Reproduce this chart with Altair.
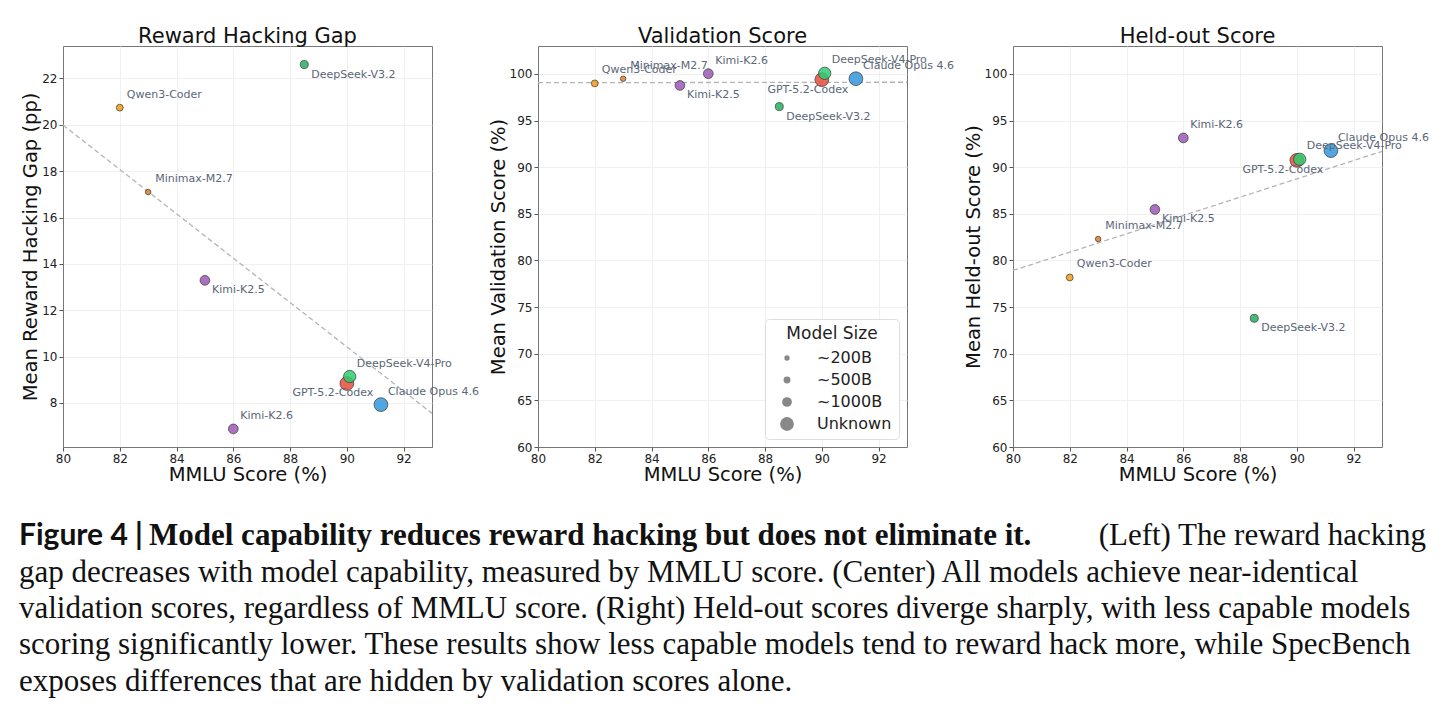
import altair as alt
import pandas as pd

# ---------------- data ----------------
models = ["Qwen3-Coder", "Minimax-M2.7", "Kimi-K2.5", "Kimi-K2.6",
          "DeepSeek-V3.2", "GPT-5.2-Codex", "DeepSeek-V4-Pro", "Claude Opus 4.6"]
mmlu = [82.0, 83.0, 85.0, 86.0, 88.5, 90.0, 90.1, 91.2]
reward_gap = [20.74, 17.10, 13.29, 6.88, 22.60, 8.84, 9.14, 7.93]
validation = [98.99, 99.49, 98.77, 100.03, 96.50, 99.39, 100.07, 99.49]
heldout = [78.18, 82.30, 85.47, 93.14, 73.80, 90.74, 90.85, 91.78]
params_b = [480, 230, 1000, 1000, 671, None, 1600, None]   # None = unknown size
model_colors = ["#f39c12", "#e67e22", "#9b59b6", "#9b59b6",
                "#27ae60", "#e74c3c", "#2ecc71", "#3498db"]

size_legend_values = [200, 500, 1000, 2000]
x_ticks = [80, 82, 84, 86, 88, 90, 92]
gap_ticks = [8, 10, 12, 14, 16, 18, 20, 22]
score_ticks = [60, 65, 70, 75, 80, 85, 90, 95, 100]

caption_line1_sans = "Figure 4 |"
caption_line1_bold = "Model capability reduces reward hacking but does not eliminate it."
caption_line1_rest = "(Left) The reward hacking"
caption_lines = [
    "gap decreases with model capability, measured by MMLU score. (Center) All models achieve near-identical",
    "validation scores, regardless of MMLU score. (Right) Held-out scores diverge sharply, with less capable models",
    "scoring significantly lower. These results show less capable models tend to reward hack more, while SpecBench",
    "exposes differences that are hidden by validation scores alone.",
]

# label placement groups (style, not data)
BELOW_RIGHT = ["Kimi-K2.5", "DeepSeek-V3.2"]
BELOW_LEFT = ["GPT-5.2-Codex"]

UNKNOWN_KEY = 2000
df = pd.DataFrame({
    "model": models,
    "mmlu": mmlu,
    "gap": reward_gap,
    "validation": validation,
    "heldout": heldout,
    "size_key": [p if p is not None else UNKNOWN_KEY for p in params_b],
})

PW, PH = 369, 401
FONT = "DejaVu Sans"
LABEL_COLOR = "#5b6678"

size_scale = alt.Scale(type="linear", domain=[200, 500, 1000, 2000],
                       range=[28, 48, 95, 190])
color_scale = alt.Scale(domain=models, range=model_colors)


def panel(ycol, title, ytitle, ydomain, yticks, show_legend):
    base = alt.Chart(df)
    x = alt.X("mmlu:Q",
              scale=alt.Scale(domain=[80, 93], nice=False, zero=False),
              axis=alt.Axis(values=x_ticks, title="MMLU Score (%)",
                            labelFlush=False, labelOverlap=False,
                            titlePadding=1))
    y = alt.Y(f"{ycol}:Q",
              scale=alt.Scale(domain=ydomain, nice=False, zero=False),
              axis=alt.Axis(values=yticks, title=ytitle,
                            labelFlush=False, labelOverlap=False,
                            titlePadding=1))

    trend = base.transform_regression("mmlu", ycol, extent=[80, 93]).mark_line(
        color="#b4b4b4", strokeDash=[5, 3], strokeWidth=1.3
    ).encode(x=x, y=y)

    if show_legend:
        legend = alt.Legend(
            title="Model Size", orient="bottom-right", direction="vertical",
            values=size_legend_values,
            labelExpr="datum.value >= 2000 ? 'Unknown' : '~' + datum.value + 'B'",
            offset=8, padding=7, fillColor="white", strokeColor="#dddddd",
            cornerRadius=4, symbolType="circle", symbolFillColor="#888888",
            symbolStrokeWidth=0, symbolOpacity=1, symbolOffset=7,
            labelOffset=22, rowPadding=6, titlePadding=7,
            labelFont=FONT, labelFontSize=16, labelColor="#222222",
            titleFont=FONT, titleFontSize=17, titleFontWeight="normal",
            titleColor="#222222", titleAnchor="middle",
        )
    else:
        legend = None

    pts = base.mark_circle(opacity=1, fillOpacity=0.85, stroke="#333333",
                           strokeWidth=0.8, strokeOpacity=0.85).encode(
        x=x, y=y,
        color=alt.Color("model:N", scale=color_scale, legend=None),
        size=alt.Size("size_key:Q", scale=size_scale, legend=legend),
    )

    txt = dict(font=FONT, fontSize=11, color=LABEL_COLOR, baseline="middle")
    lab_ar = base.transform_filter(
        ~alt.FieldOneOfPredicate(field="model", oneOf=BELOW_RIGHT + BELOW_LEFT)
    ).mark_text(align="left", dx=7, dy=-13, **txt).encode(x=x, y=y, text="model:N")
    lab_br = base.transform_filter(
        alt.FieldOneOfPredicate(field="model", oneOf=BELOW_RIGHT)
    ).mark_text(align="left", dx=7, dy=10, **txt).encode(x=x, y=y, text="model:N")
    lab_bl = base.transform_filter(
        alt.FieldOneOfPredicate(field="model", oneOf=BELOW_LEFT)
    ).mark_text(align="center", dx=-14, dy=10, **txt).encode(x=x, y=y, text="model:N")

    return alt.layer(trend, pts, lab_ar, lab_br, lab_bl).properties(
        width=PW, height=PH,
        title=alt.TitleParams(title, fontSize=21, font=FONT, fontWeight="normal",
                              color="#111111", offset=-1),
    )


p1 = panel("gap", "Reward Hacking Gap", "Mean Reward Hacking Gap (pp)",
           [6.1, 23.4], gap_ticks, False)
p2 = panel("validation", "Validation Score", "Mean Validation Score (%)",
           [60, 103], score_ticks, True)
p3 = panel("heldout", "Held-out Score", "Mean Held-out Score (%)",
           [60, 103], score_ticks, False)

row = alt.hconcat(p1, p2, p3, spacing=106, bounds="flush").resolve_scale(
    size="independent").resolve_legend(size="independent")

# ---------------- caption ----------------
CAP_FONT = "Liberation Serif"
CAP_SIZE = 31
cap_df = pd.DataFrame({"line": [1, 2, 3, 4], "text": caption_lines})
first_df = pd.DataFrame({"line": [0], "a": [caption_line1_sans],
                         "b": [caption_line1_bold], "c": [caption_line1_rest]})
cap_y = alt.Y("line:Q", scale=alt.Scale(domain=[-0.5, 4.5], reverse=True), axis=None)

cap_rest = alt.Chart(cap_df).mark_text(
    align="left", baseline="middle", font=CAP_FONT, fontSize=CAP_SIZE, color="#111111"
).encode(x=alt.value(-44), y=cap_y, text="text:N")
cap_a = alt.Chart(first_df).mark_text(
    align="left", baseline="middle", font="Lato", fontWeight="bold",
    fontSize=CAP_SIZE - 1, color="#111111"
).encode(x=alt.value(-44), y=cap_y, text="a:N")
cap_b = alt.Chart(first_df).mark_text(
    align="left", baseline="middle", font=CAP_FONT, fontWeight="bold",
    fontSize=CAP_SIZE, color="#111111"
).encode(x=alt.value(86), y=cap_y, text="b:N")
cap_c = alt.Chart(first_df).mark_text(
    align="right", baseline="middle", font=CAP_FONT,
    fontSize=CAP_SIZE, color="#111111"
).encode(x=alt.value(1363), y=cap_y, text="c:N")

caption = alt.layer(cap_a, cap_b, cap_c, cap_rest).properties(
    width=1363, height=182, view=alt.ViewBackground(stroke="transparent"))

# the flush row contributes no height, so the spacing spans the plot height too
chart = alt.vconcat(row, caption, spacing=PH + 71, bounds="flush").properties(
    padding={"left": 18, "top": 25, "right": 5, "bottom": 5}
).configure(font=FONT).configure_view(
    stroke="#777777", strokeWidth=1
).configure_axis(
    labelFont=FONT, labelFontSize=12, labelColor="#222222",
    titleFont=FONT, titleFontSize=19.5, titleFontWeight="normal", titleColor="#111111",
    tickSize=4, tickColor="#555555", domainColor="#777777",
    gridColor="#ececec", gridWidth=0.8, labelPadding=2,
)

chart.save("out.html", embed_options={"renderer": "svg", "actions": False})
